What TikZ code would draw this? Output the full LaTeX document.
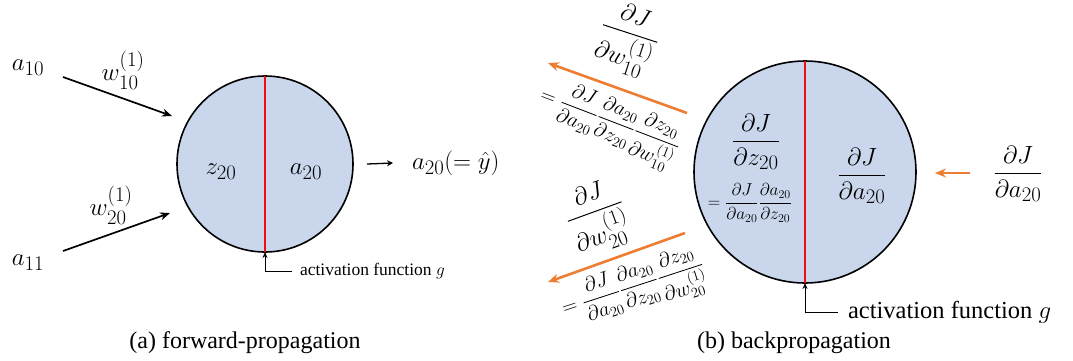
\documentclass[tikz,border=0pt]{standalone}
\usepackage{amsmath}
\usepackage{fontspec}
\setmainfont{Liberation Serif}
\usetikzlibrary{arrows.meta}
\definecolor{cfill}{RGB}{201,214,236}
\definecolor{cred}{RGB}{238,16,16}
\definecolor{corange}{RGB}{237,125,49}
\newcommand\fs[1]{\fontsize{#1}{#1}\selectfont}
\newcommand\pd{\partial}
\begin{document}
\begin{tikzpicture}[x=1pt,y=-1pt,
  every node/.style={inner sep=0pt, outer sep=0pt},
  neuron/.style={circle, draw=black, line width=1.6pt, fill=cfill, outer sep=0pt},
  fwd/.style={-{Stealth[length=10pt,width=8pt]}, line width=1.7pt},
  outarr/.style={-{Stealth[length=6pt,width=6pt]}, line width=1.3pt},
  bwd/.style={-{Stealth[length=11pt,width=9pt]}, line width=2.6pt, draw=corange},
  act/.style={-{Stealth[length=6pt,width=5pt]}, line width=0.9pt},
  divline/.style={draw=cred, line width=2.8pt},
  mlarge/.style={font=\fs{29.5}},
  mfrac/.style={font=\fs{29}},
  msmall/.style={font=\fs{19.5}},
  caption/.style={font=\fs{24}}]
\useasboundingbox (0,0) rectangle (1073,360);

% ---------------- (a) forward propagation ----------------
\node[neuron, minimum size=176pt] (cl) at (265,164) {};
\draw[divline] (cl.north) -- (cl.south);
\node[mlarge] (z) at (221,172) {$z_{20}$};
\node[mlarge] (al) at (306,172) {$a_{20}$};

\node[mlarge] (a10) at (28,68) {$a_{10}$};
\node[mlarge] (a11) at (28,263) {$a_{11}$};
\coordinate (s1) at (63,77);
\coordinate (e1) at (172,116);
\coordinate (s2) at (63,251);
\coordinate (e2) at (170,213);
\draw[fwd] (s1) -- (e1);
\draw[fwd] (s2) -- (e2);
\node[mlarge] (w1) at (123,70) {$w_{10}^{(1)}$};
\node[mlarge] (w2) at (111,205) {$w_{20}^{(1)}$};

\coordinate (os) at (367,164);
\node[mlarge, anchor=west] (out) at (412,163) {$a_{20}(=\hat{y})$};
\draw[outarr] (os) -- ([xshift=-19pt]out.west);

\node[anchor=west, font=\fs{17.5}] (actl) at (300,271) {activation function $g$};
\draw[act] ([xshift=-8pt]actl.west) -| (cl.south);

\node[caption] (capa) at (245,343) {(a) forward-propagation};

% ---------------- (b) backpropagation ----------------
\node[neuron, minimum size=222pt] (cr) at (805,172) {};
\draw[divline] (cr.north) -- (cr.south);
\node[mfrac] (dz) at (756,142) {$\dfrac{\pd J}{\pd z_{20}}$};
\node[font=\fs{18.5}] (dzx) at (750,203) {$=\dfrac{\pd J}{\pd a_{20}}\dfrac{\pd a_{20}}{\pd z_{20}}$};
\node[mfrac] (da) at (862,176) {$\dfrac{\pd J}{\pd a_{20}}$};

\node[mfrac] (dain) at (1018,174) {$\dfrac{\pd J}{\pd a_{20}}$};
\coordinate (ra) at (970,173);
\draw[bwd] (ra) -- ++(-35,0);

\node[mfrac, rotate=-18] (dw1) at (628,40) {$\dfrac{\pd J}{\pd w_{10}^{(1)}}$};
\coordinate (b1s) at (687,113);
\coordinate (b1e) at (548,63);
\draw[bwd] (b1s) -- (b1e);
\node[msmall, rotate=-21] (dw1x) at (609,124) {$=\dfrac{\pd J}{\pd a_{20}}\dfrac{\pd a_{20}}{\pd z_{20}}\dfrac{\pd z_{20}}{\pd w_{10}^{(1)}}$};

\node[mfrac, rotate=20] (dw2) at (597,218) {$\dfrac{\pd J}{\pd w_{20}^{(1)}}$};
\coordinate (b2s) at (685,233);
\coordinate (b2e) at (548,282);
\draw[bwd] (b2s) -- (b2e);
\node[msmall, rotate=18] (dw2x) at (634,290) {$=\dfrac{\pd J}{\pd a_{20}}\dfrac{\pd a_{20}}{\pd z_{20}}\dfrac{\pd z_{20}}{\pd w_{20}^{(1)}}$};

\node[anchor=west, font=\fs{24.5}] (actr) at (848,312) {activation function $g$};
\draw[act] ([xshift=-10pt]actr.west) -| (cr.south);

\node[caption] (capb) at (794,343) {(b) backpropagation};
\end{tikzpicture}
\end{document}
